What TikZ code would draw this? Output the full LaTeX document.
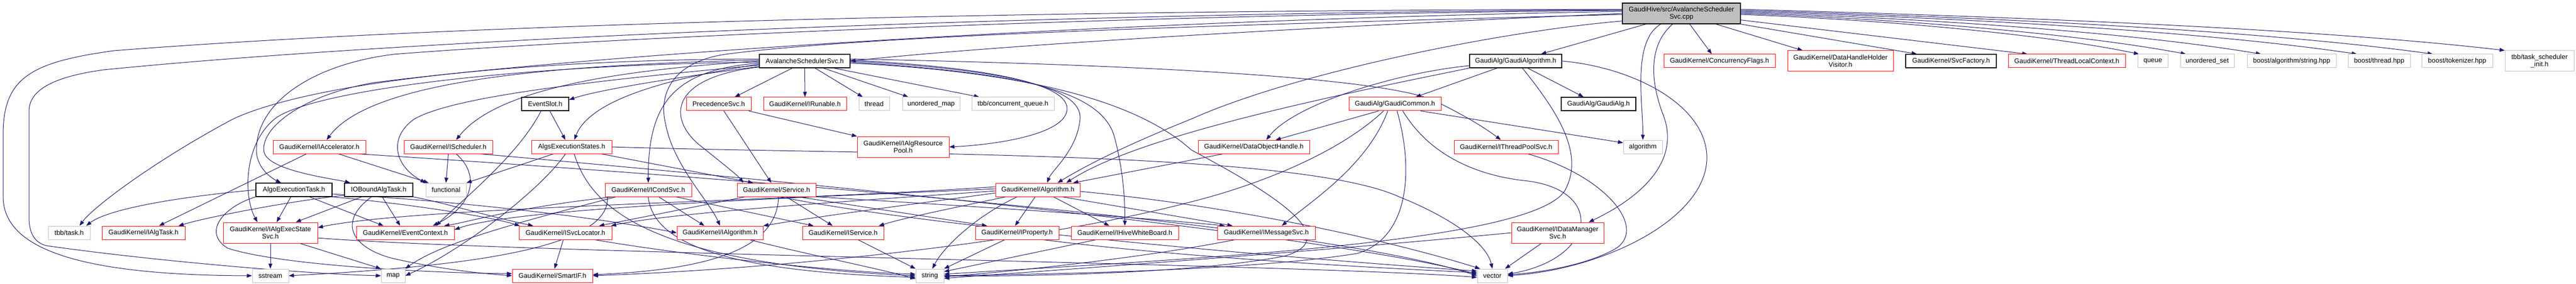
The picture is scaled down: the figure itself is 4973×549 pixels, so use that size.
\documentclass[tikz,border=0pt]{standalone}
\usepackage{fontspec}
\setmainfont{Liberation Sans}
\usetikzlibrary{arrows.meta,calc}
\definecolor{edgeblue}{HTML}{191970}
\definecolor{boxgray}{HTML}{BFBFBF}
\definecolor{boxred}{HTML}{FF0000}
\pgfdeclarelayer{edges}
\pgfsetlayers{edges,main}
\begin{document}
\begin{tikzpicture}[x=0.75pt, y=-0.75pt,
  file/.style={rectangle, inner sep=0pt, minimum height=19.5pt, line width=0.75pt,
    fill=white, font=\fontsize{9.7}{10.5}\selectfont, align=center},
  tall/.style={minimum height=30pt},
  redfile/.style={file, draw=boxred},
  grayfile/.style={file, draw=boxgray},
  blackfile/.style={file, draw=black, line width=1pt},
  w/.style={minimum width=#1*0.75pt},
  dep/.style={draw=edgeblue, line width=0.75pt, -{Triangle[length=7.5pt,width=5.5pt]}}]
\useasboundingbox (0,0) rectangle (4973,549);
% row 0
\node[blackfile, tall, fill=boxgray, w=228] (cpp) at (3246,26) {GaudiHive/src/AvalancheScheduler\\Svc.cpp};
% row 1
\node[blackfile, w=175] (avsh) at (1553.5,118) {AvalancheSchedulerSvc.h};
\node[blackfile, w=178] (gaudialgorithm) at (2926,118) {GaudiAlg/GaudiAlgorithm.h};
\node[redfile, w=215] (concflags) at (3319.5,118) {GaudiKernel/ConcurrencyFlags.h};
\node[redfile, tall, w=204] (dhhv) at (3553,118) {GaudiKernel/DataHandleHolder\\Visitor.h};
\node[blackfile, w=175] (svcfactory) at (3766.5,118) {GaudiKernel/SvcFactory.h};
\node[redfile, w=226] (tlc) at (3990,118) {GaudiKernel/ThreadLocalContext.h};
\node[grayfile, w=58] (queue) at (4156,118) {queue};
\node[grayfile, w=104] (uset) at (4261,118) {unordered\_set};
\node[grayfile, w=172] (bstring) at (4424,118) {boost/algorithm/string.hpp};
\node[grayfile, w=120] (bthread) at (4593,118) {boost/thread.hpp};
\node[grayfile, w=137] (btok) at (4743.5,118) {boost/tokenizer.hpp};
\node[grayfile, tall, w=133] (tbbinit) at (4902.5,118) {tbb/task\_scheduler\\\_init.h};
% row 2
\node[blackfile, w=91] (eventslot) at (1052.5,201) {EventSlot.h};
\node[redfile, w=125] (precsvc) at (1387.5,201) {PrecedenceSvc.h};
\node[redfile, w=160] (irunable) at (1554,201) {GaudiKernel/IRunable.h};
\node[grayfile, w=59] (thread) at (1687.5,201) {thread};
\node[grayfile, w=111] (umap) at (1797.5,201) {unordered\_map};
\node[grayfile, w=159] (cqueue) at (1955.5,201) {tbb/concurrent\_queue.h};
\node[redfile, w=178] (gaudicommon) at (2693,201) {GaudiAlg/GaudiCommon.h};
\node[blackfile, w=144] (gaudialg) at (3086,201) {GaudiAlg/GaudiAlg.h};
% row 3
\node[redfile, w=179] (iaccel) at (616.5,284) {GaudiKernel/IAccelerator.h};
\node[redfile, w=171] (isched) at (865.5,284) {GaudiKernel/IScheduler.h};
\node[redfile, w=155] (algsexec) at (1103.5,284) {AlgsExecutionStates.h};
\node[redfile, tall, w=177] (iarp) at (1743.5,284) {GaudiKernel/IAlgResource\\Pool.h};
\node[redfile, w=215] (dohandle) at (2420.5,284) {GaudiKernel/DataObjectHandle.h};
\node[redfile, w=201] (itps) at (2907.5,284) {GaudiKernel/IThreadPoolSvc.h};
\node[grayfile, w=75] (algorithm) at (3171.5,284) {algorithm};
% row 4
\node[blackfile, w=147] (aet) at (567.5,367) {AlgoExecutionTask.h};
\node[blackfile, w=132] (iobat) at (731,367) {IOBoundAlgTask.h};
\node[grayfile, w=78] (functional) at (861,367) {functional};
\node[redfile, w=167] (icondsvc) at (1251.5,367) {GaudiKernel/ICondSvc.h};
\node[redfile, w=152] (service) at (1499,367) {GaudiKernel/Service.h};
\node[redfile, w=163] (algorithmh) at (2003.5,367) {GaudiKernel/Algorithm.h};
% row 5
\node[grayfile, w=81] (tbbtask) at (133.5,450) {tbb/task.h};
\node[redfile, w=160] (ialgtask) at (277,450) {GaudiKernel/IAlgTask.h};
\node[redfile, tall, w=182] (iaess) at (522,450) {GaudiKernel/IAlgExecState\\Svc.h};
\node[redfile, w=189] (evctx) at (782.5,450) {GaudiKernel/EventContext.h};
\node[redfile, w=179] (isvcloc) at (1091.5,450) {GaudiKernel/ISvcLocator.h};
\node[redfile, w=166] (ialgorithm) at (1390,450) {GaudiKernel/IAlgorithm.h};
\node[redfile, w=157] (iservice) at (1627.5,450) {GaudiKernel/IService.h};
\node[redfile, w=161] (iproperty) at (1963.5,450) {GaudiKernel/IProperty.h};
\node[redfile, w=207] (ihwb) at (2171.5,450) {GaudiKernel/IHiveWhiteBoard.h};
\node[redfile, w=189] (imsgsvc) at (2444.5,450) {GaudiKernel/IMessageSvc.h};
\node[redfile, tall, w=178] (idms) at (3007,450) {GaudiKernel/IDataManager\\Svc.h};
% row 6
\node[grayfile, w=70] (sstream) at (522,533) {sstream};
\node[grayfile, w=46] (map) at (759,533) {map};
\node[redfile, w=155] (smartif) at (1066.5,533) {GaudiKernel/SmartIF.h};
\node[grayfile, w=54] (string) at (1795,533) {string};
\node[grayfile, w=58] (vector) at (2881,533) {vector};
\begin{pgfonlayer}{edges}
% the source file
\draw[dep] (cpp.west) .. controls (2700,45) and (2000,80) .. (avsh.east);
\draw[dep] ($(cpp.west)+(0,-6)$) .. controls (2000,30) and (1000,85) .. (760,105) .. controls (600,125) and (495,200) .. (495,290) .. controls (495,325) and (525,345) .. ($(aet.north)+(-25,0)$);
\draw[dep] ($(cpp.west)+(0,-4)$) .. controls (2100,40) and (1100,110) .. (720,160) .. controls (580,185) and (500,250) .. (510,295) .. controls (520,330) and (640,345) .. ($(iobat.north)+(-55,0)$);
\draw[dep] ($(cpp.west)+(0,-8)$) .. controls (2000,20) and (900,45) .. (220,98) .. controls (60,120) and (6,150) .. (6,260) -- (6,380) .. controls (6,480) and (150,532) .. (sstream.west);
\draw[dep] ($(cpp.west)+(0,-7)$) .. controls (2000,25) and (800,75) .. (200,135) .. controls (90,150) and (56,180) .. (56,215) -- (56,420) .. controls (56,455) and (70,470) .. (90,475) .. controls (300,505) and (600,530) .. (map.west);
\draw[dep] ($(cpp.west)+(0,2)$) .. controls (2500,45) and (1700,65) .. (1400,105) .. controls (1300,120) and (1270,180) .. (1285,240) .. controls (1300,320) and (1370,390) .. (ialgorithm.north);
\draw[dep] ($(cpp.south west)+(0,-6)$) .. controls (2900,60) and (2500,140) .. (2300,230) .. controls (2150,290) and (2080,330) .. ($(algorithmh.north)+(38,0)$);
\draw[dep] ($(cpp.south west)+(46,0)$) -- ($(gaudialgorithm.north)+(49,0)$);
\draw[dep] ($(cpp.south)+(-40,0)$) .. controls (3150,80) and (3172,200) .. (algorithm.north);
\draw[dep] ($(cpp.south)+(-17,0)$) .. controls (3190,80) and (3180,140) .. (3210,220) .. controls (3250,320) and (3150,390) .. ($(idms.north)+(60,0)$);
\draw[dep] ($(cpp.south)+(16,0)$) -- ($(concflags.north)+(-15,0)$);
\draw[dep] ($(cpp.south east)+(-48,0)$) -- ($(dhhv.north)+(-73,0)$);
\draw[dep] (cpp.south east) -- ($(svcfactory.north)+(-66,0)$);
\draw[dep] ($(cpp.south east)+(0,-8)$) -- ($(tlc.north)+(-76,0)$);
\draw[dep] ($(cpp.east)+(0,2)$) .. controls (3630,38) and (3940,65) .. ($(queue.north west)+(3,0)$);
\draw[dep] ($(cpp.east)+(0,0)$) .. controls (3660,36) and (4010,65) .. ($(uset.north)+(-41,0)$);
\draw[dep] ($(cpp.east)+(0,-2)$) .. controls (3710,35) and (4110,62) .. ($(bstring.north)+(-59,0)$);
\draw[dep] ($(cpp.east)+(0,-4)$) .. controls (3780,34) and (4250,60) .. ($(bthread.north)+(-43,0)$);
\draw[dep] ($(cpp.east)+(0,-6)$) .. controls (3830,33) and (4360,58) .. ($(btok.north)+(-47,0)$);
\draw[dep] ($(cpp.east)+(0,-8)$) .. controls (3880,32) and (4470,55) .. (tbbinit.north west);
% AvalancheSchedulerSvc.h
\draw[dep] ($(avsh.south)+(-24,0)$) -- ($(precsvc.north)+(31,0)$);
\draw[dep] (avsh.south) -- (irunable.north);
\draw[dep] ($(avsh.south)+(20,0)$) -- ($(thread.north west)+(8,0)$);
\draw[dep] ($(avsh.south)+(36,0)$) -- ($(umap.north west)+(12,0)$);
\draw[dep] ($(avsh.south)+(56,0)$) -- ($(cqueue.north west)+(15,0)$);
\draw[dep] ($(avsh.south west)+(0,-3)$) .. controls (1300,150) and (1150,175) .. ($(eventslot.east)+(0,-8)$);
\draw[dep] ($(avsh.west)+(0,6)$) .. controls (1300,150) and (1140,190) .. ($(algsexec.north)+(5,0)$);
\draw[dep] (avsh.west) .. controls (1200,135) and (960,170) .. ($(isched.north)+(15,0)$);
\draw[dep] ($(avsh.west)+(0,-2)$) .. controls (1100,125) and (720,150) .. ($(iaccel.north)+(14,0)$);
\draw[dep] ($(avsh.west)+(0,-4)$) .. controls (1000,115) and (600,160) .. (450,230) .. controls (300,310) and (180,400) .. ($(tbbtask.north)+(20,0)$);
\draw[dep] ($(avsh.west)+(0,2)$) .. controls (1000,125) and (600,175) .. (530,230) .. controls (470,280) and (470,380) .. ($(iaess.north)+(-25,0)$);
\draw[dep] ($(avsh.west)+(0,8)$) .. controls (1100,160) and (870,190) .. (800,230) .. controls (750,265) and (760,320) .. (functional.north west);
\draw[dep] ($(avsh.west)+(0,4)$) .. controls (1300,135) and (1251,200) .. (icondsvc.north);
\draw[dep] ($(avsh.south west)+(0,-2)$) .. controls (1290,150) and (1290,230) .. (1350,280) .. controls (1400,320) and (1425,340) .. ($(service.north)+(-64,0)$);
\draw[dep] ($(avsh.east)+(0,-2)$) .. controls (1900,130) and (2060,160) .. (2060,210) .. controls (2060,260) and (1920,280) .. (iarp.east);
\draw[dep] (avsh.east) .. controls (1950,135) and (2090,170) .. (2085,230) .. controls (2080,290) and (2030,330) .. ($(algorithmh.north)+(18,0)$);
\draw[dep] ($(avsh.east)+(0,2)$) .. controls (1950,140) and (2120,170) .. (2150,260) .. controls (2170,330) and (2172,400) .. (ihwb.north);
\draw[dep] ($(avsh.east)+(0,-4)$) .. controls (2200,125) and (2700,150) .. (2780,200) .. controls (2840,230) and (2870,250) .. ($(itps.north)+(-10,0)$);
\draw[dep] ($(avsh.east)+(0,4)$) .. controls (2000,140) and (2200,200) .. (2300,290) .. controls (2450,370) and (2600,460) .. (2480,495) .. controls (2300,530) and (1950,535) .. (string.east);
% second row
\draw[dep] ($(eventslot.south)+(9,0)$) -- ($(algsexec.north)+(-12,0)$);
\draw[dep] ($(eventslot.south)+(-8,0)$) .. controls (1000,300) and (900,380) .. ($(evctx.north east)+(-36,0)$);
\draw[dep] ($(precsvc.south east)+(-5,0)$) -- (iarp.north west);
\draw[dep] ($(precsvc.south)+(10,0)$) -- ($(service.north)+(-10,0)$);
\draw[dep] ($(gaudialgorithm.south)+(-36,0)$) -- ($(gaudicommon.north)+(40,0)$);
\draw[dep] ($(gaudialgorithm.south)+(23,0)$) -- ($(gaudialg.north)+(-29,0)$);
\draw[dep] (gaudialgorithm.south west) .. controls (2600,180) and (2200,260) .. ($(algorithmh.north)+(55,0)$);
\draw[dep] ($(gaudialgorithm.west)+(0,9)$) .. controls (2700,140) and (2500,200) .. ($(dohandle.north)+(24,0)$);
\draw[dep] (gaudialgorithm.east) .. controls (3150,130) and (3290,200) .. (3295,300) .. controls (3300,420) and (3100,520) .. (vector.east);
\draw[dep] ($(gaudialgorithm.south)+(13,0)$) .. controls (3010,220) and (3060,300) .. (3020,370) .. controls (2950,470) and (2300,500) .. ($(string.east)+(0,-3)$);
\draw[dep] ($(gaudicommon.south west)+(58,0)$) -- ($(dohandle.north)+(42,0)$);
\draw[dep] ($(gaudicommon.south east)+(-40,0)$) -- ($(algorithm.west)+(0,-8)$);
\draw[dep] ($(gaudicommon.south)+(-14,0)$) .. controls (2640,320) and (2530,390) .. ($(imsgsvc.north)+(30,0)$);
\draw[dep] ($(gaudicommon.south)+(15,0)$) .. controls (2760,300) and (2850,340) .. (2950,350) .. controls (3100,370) and (3080,500) .. ($(vector.east)+(0,-3)$);
\draw[dep] ($(gaudicommon.south)+(4,0)$) .. controls (2730,330) and (2720,460) .. (2620,490) .. controls (2400,525) and (2000,530) .. (string.east);
\draw[dep] ($(gaudicommon.south)+(-22,0)$) .. controls (2580,300) and (2420,360) .. (2300,390) .. controls (2000,470) and (1500,520) .. (smartif.east);
% third row
\draw[dep] ($(iaccel.south)+(-25,0)$) -- ($(ialgtask.north)+(30,0)$);
\draw[dep] ($(iaccel.south)+(37,0)$) -- ($(functional.north west)+(6,0)$);
\draw[dep] ($(iaccel.south east)+(-15,0)$) .. controls (1200,330) and (2500,420) .. (vector.west);
\draw[dep] (isched.south) -- (functional.north);
\draw[dep] ($(isched.south)+(15,0)$) .. controls (930,340) and (910,400) .. ($(evctx.north east)+(-42,0)$);
\draw[dep] ($(isched.south east)+(-25,0)$) .. controls (1300,330) and (2500,440) .. ($(vector.west)+(0,-3)$);
\draw[dep] ($(algsexec.south)+(-35,0)$) -- (functional.north east);
\draw[dep] ($(algsexec.south)+(57,0)$) -- ($(service.north)+(-45,0)$);
\draw[dep] ($(algsexec.south)+(-12,0)$) .. controls (1050,360) and (900,480) .. (map.east);
\draw[dep] ($(algsexec.south)+(5,0)$) .. controls (1140,400) and (1250,510) .. (string.west);
\draw[dep] (algsexec.east) .. controls (1700,300) and (2500,290) .. (2700,380) .. controls (2800,420) and (2870,470) .. (vector.north);
\draw[dep] ($(dohandle.south west)+(49,0)$) -- ($(algorithmh.north)+(68,0)$);
\draw[dep] ($(itps.south)+(42,0)$) .. controls (3100,340) and (3180,440) .. (3120,480) .. controls (3060,515) and (2960,528) .. ($(vector.east)+(0,-2)$);
% fourth row
\draw[dep] (aet.west) .. controls (300,385) and (200,410) .. ($(tbbtask.north east)+(-8,0)$);
\draw[dep] ($(aet.south)+(-6,0)$) -- ($(iaess.north)+(12,0)$);
\draw[dep] ($(aet.south)+(30,0)$) -- ($(evctx.north)+(-42,0)$);
\draw[dep] (aet.south west) .. controls (430,400) and (390,450) .. (440,480) .. controls (550,515) and (850,528) .. ($(smartif.west)+(0,-4)$);
\draw[dep] (aet.south east) .. controls (800,395) and (950,420) .. ($(isvcloc.north)+(-88,0)$);
\draw[dep] ($(aet.east)+(0,8)$) .. controls (900,390) and (1150,420) .. (ialgorithm.west);
\draw[dep] ($(iobat.south west)+(0,-3)$) .. controls (550,390) and (400,420) .. ($(ialgtask.north east)+(-13,0)$);
\draw[dep] ($(iobat.south)+(-33,0)$) -- ($(iaess.north)+(49,0)$);
\draw[dep] ($(iobat.south)+(7,0)$) -- ($(evctx.north)+(-10,0)$);
\draw[dep] ($(iobat.south)+(-14,0)$) .. controls (650,430) and (680,480) .. (760,500) .. controls (850,520) and (920,528) .. (smartif.west);
\draw[dep] (iobat.south east) .. controls (850,390) and (950,420) .. ($(isvcloc.north)+(-62,0)$);
\draw[dep] ($(icondsvc.south west)+(17,0)$) .. controls (1000,400) and (900,430) .. ($(evctx.north east)+(-20,0)$);
\draw[dep] ($(icondsvc.south)+(20,0)$) -- ($(ialgorithm.north)+(-30,0)$);
\draw[dep] ($(icondsvc.south east)+(-31,0)$) -- ($(iservice.north west)+(22,0)$);
\draw[dep] ($(icondsvc.south west)+(5,0)$) .. controls (1180,480) and (900,515) .. (sstream.east);
\draw[dep] ($(icondsvc.south west)+(22,0)$) .. controls (1000,430) and (850,470) .. (map.north east);
\draw[dep] (icondsvc.south) .. controls (1260,470) and (1400,525) .. ($(string.west)+(0,3)$);
\draw[dep] ($(service.south west)+(16,0)$) -- ($(isvcloc.north east)+(-25,0)$);
\draw[dep] ($(service.south)+(19,0)$) -- ($(iservice.north)+(-20,0)$);
\draw[dep] ($(service.south)+(4,0)$) .. controls (1500,470) and (1400,520) .. ($(smartif.east)+(0,-2)$);
\draw[dep] ($(service.south east)+(-35,0)$) -- ($(iproperty.north west)+(23,0)$);
\draw[dep] (service.south east) .. controls (1900,400) and (2200,420) .. ($(imsgsvc.north west)+(15,0)$);
\draw[dep] ($(service.south east)+(-70,0)$) .. controls (1800,440) and (2500,500) .. ($(vector.west)+(0,-9)$);
\draw[dep] ($(algorithmh.west)+(0,-6)$) .. controls (1500,390) and (800,400) .. ($(iaess.east)+(0,-10)$);
\draw[dep] ($(algorithmh.west)+(0,-2)$) .. controls (1600,380) and (1000,400) .. ($(evctx.east)+(0,-6)$);
\draw[dep] ($(algorithmh.west)+(0,2)$) .. controls (1700,385) and (1300,410) .. ($(isvcloc.north east)+(-2,0)$);
\draw[dep] ($(algorithmh.west)+(0,6)$) .. controls (1800,390) and (1600,415) .. (ialgorithm.north east);
\draw[dep] ($(algorithmh.south west)+(20,0)$) .. controls (1850,400) and (1750,420) .. ($(iservice.north east)+(-10,0)$);
\draw[dep] ($(algorithmh.south west)+(42,0)$) .. controls (1880,420) and (1820,480) .. ($(string.north)+(5,0)$);
\draw[dep] ($(algorithmh.south)+(-5,0)$) -- ($(iproperty.north)+(-4,0)$);
\draw[dep] ($(algorithmh.south)+(30,0)$) -- ($(ihwb.north)+(-30,0)$);
\draw[dep] ($(algorithmh.south east)+(-35,0)$) -- ($(imsgsvc.north west)+(30,0)$);
\draw[dep] ($(algorithmh.east)+(0,3)$) .. controls (2400,400) and (2700,470) .. ($(vector.north west)+(6,0)$);
% fifth row
\draw[dep] (iaess.south) -- (sstream.north);
\draw[dep] ($(iaess.south)+(57,0)$) -- (map.north west);
\draw[dep] ($(iaess.east)+(0,10)$) .. controls (1000,490) and (2500,510) .. ($(vector.west)+(0,3)$);
\draw[dep] ($(isvcloc.south)+(-4,0)$) -- ($(smartif.north)+(4,0)$);
\draw[dep] ($(isvcloc.south east)+(-33,0)$) .. controls (1300,490) and (1600,525) .. ($(string.west)+(0,-3)$);
\draw[dep] ($(ialgorithm.south east)+(-26,0)$) .. controls (1550,490) and (1700,520) .. ($(string.west)+(0,6)$);
\draw[dep] ($(iservice.south east)+(-50,0)$) -- (string.north west);
\draw[dep] ($(iproperty.south west)+(57,0)$) -- (string.north east);
\draw[dep] ($(iproperty.south east)+(-30,0)$) .. controls (2300,500) and (2700,520) .. ($(vector.west)+(0,-6)$);
\draw[dep] ($(ihwb.south west)+(48,0)$) -- ($(string.east)+(0,-8)$);
\draw[dep] ($(imsgsvc.south west)+(34,0)$) .. controls (2200,500) and (1950,525) .. ($(string.east)+(0,2)$);
\draw[dep] ($(idms.south west)+(58,0)$) -- ($(vector.north east)+(-5,0)$);
\draw[dep] (idms.west) .. controls (2500,490) and (2000,525) .. ($(string.east)+(0,5)$);
\end{pgfonlayer}
\end{tikzpicture}
\end{document}
